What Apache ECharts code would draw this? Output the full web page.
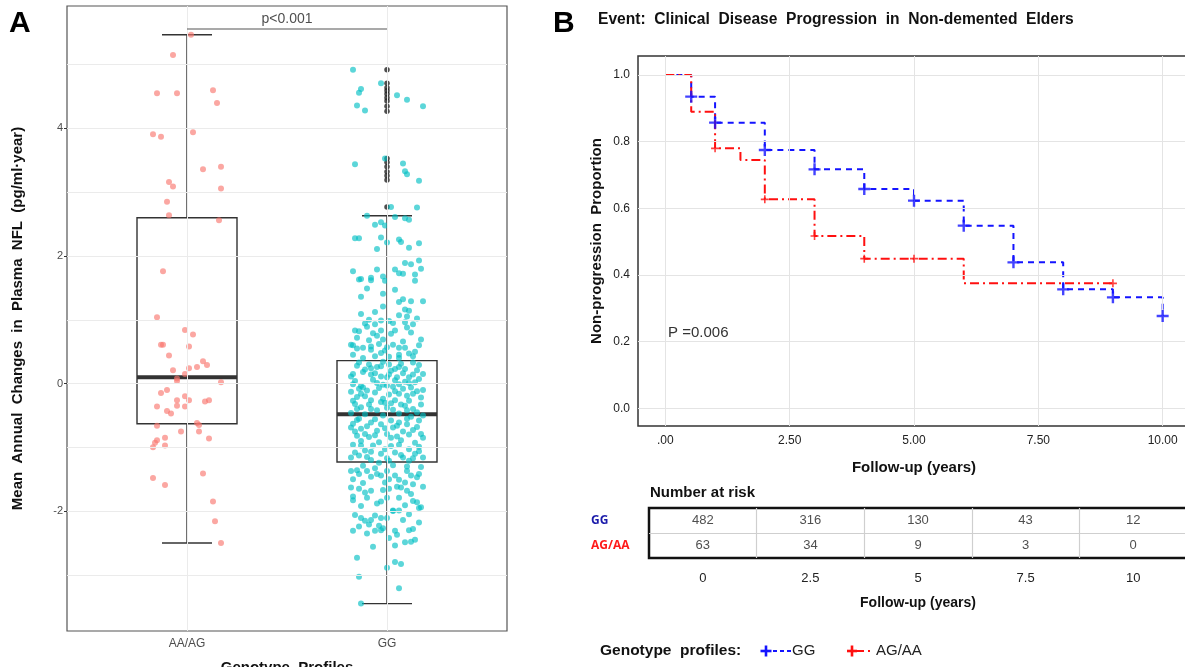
<!DOCTYPE html>
<html>
<head>
<meta charset="utf-8">
<script src="https://cdn.jsdelivr.net/npm/echarts@6/dist/echarts.min.js"></script>
<style>
  html, body { margin: 0; padding: 0; background: #fff; }
  #chart { width: 1185px; height: 667px; }
</style>
</head>
<body>
<div id="chart"></div>
<script>
// ---------- Panel A: NfL change by genotype ----------
const genotypes = ['AA/AG', 'GG'];
// [lower whisker, Q1, median, Q3, upper whisker]
const boxStats = [
  [-2.50, -0.63, 0.10, 2.60, 5.47],
  [-3.45, -1.23, -0.48, 0.36, 2.63]
];
const ggOutliers = [4.92, 4.71, 4.64, 4.59, 4.54, 4.48, 4.43, 4.35, 4.27, 3.53, 3.47, 3.40, 3.32, 3.26, 3.19, 2.77];
// jittered observations: [offset from category, value]
const redJitter = [
  [0.02,5.47],[-0.07,5.15],[-0.15,4.55],[-0.05,4.55],[0.13,4.60],[0.15,4.40],[-0.17,3.91],[-0.13,3.87],[0.03,3.94],
  [0.08,3.36],[0.17,3.40],[-0.09,3.16],[-0.07,3.09],[0.17,3.06],[-0.10,2.85],[-0.09,2.64],[0.16,2.56],[-0.12,1.76],[-0.15,1.04],
  [-0.01,0.84],[0.03,0.77],[-0.13,0.61],[-0.12,0.61],[0.01,0.58],[-0.09,0.44],[0.08,0.35],[0.10,0.29],[0.05,0.26],[0.01,0.24],
  [-0.07,0.21],[-0.01,0.15],[-0.05,0.08],[-0.05,0.04],[0.17,0.02],[-0.13,-0.15],[-0.10,-0.10],[-0.01,-0.20],[-0.05,-0.26],
  [0.01,-0.26],[0.11,-0.26],[0.09,-0.28],[-0.15,-0.36],[-0.05,-0.35],[-0.01,-0.36],[-0.10,-0.43],[-0.08,-0.47],[0.05,-0.62],
  [0.06,-0.65],[-0.15,-0.66],[-0.03,-0.75],[0.06,-0.75],[-0.11,-0.85],[-0.15,-0.89],[-0.16,-0.93],[0.11,-0.86],[-0.11,-0.97],
  [-0.17,-1.00],[0.08,-1.41],[-0.17,-1.48],[-0.11,-1.59],[0.13,-1.85],[0.14,-2.16],[0.17,-2.50]
];
const tealJitter = [
  [-0.17,4.92],[-0.03,4.71],[-0.13,4.62],[-0.14,4.56],[0.05,4.52],[0.10,4.45],[-0.15,4.36],[-0.11,4.28],[0.18,4.35],
  [-0.16,3.44],[-0.01,3.53],[0.08,3.45],[0.09,3.33],[0.10,3.28],[0.16,3.18],
  [0.02,2.77],[0.15,2.76],[-0.10,2.63],[0.04,2.61],[0.09,2.59],[0.11,2.57],[-0.03,2.53],[-0.06,2.49],[-0.01,2.48],
  [-0.16,2.28],[-0.14,2.28],[-0.03,2.29],[0.06,2.26],
  [-0.05,2.11],[0.00,2.21],[0.07,2.22],[0.11,2.13],[0.16,2.20],
  [-0.17,1.76],[-0.14,1.63],[-0.13,1.64],[-0.08,1.66],[-0.08,1.62],[-0.05,1.79],[-0.02,1.68],[-0.01,1.61],[0.04,1.79],
  [0.06,1.73],[0.08,1.72],[0.09,1.89],[0.12,1.87],[0.16,1.93],[0.17,1.80],[0.14,1.71],[0.14,1.61],
  [-0.10,1.49],[-0.13,1.36],[-0.02,1.41],[0.04,1.47],[0.06,1.28],[0.08,1.32],[0.12,1.29],[0.18,1.29],[-0.02,1.21],
  [0.09,1.16],[0.11,1.14],[0.06,1.07],[-0.13,1.09],[0.10,1.05],[-0.06,1.12],[-0.09,1.00],[0.15,1.02],
  [-0.16,0.83],[-0.14,0.82],[-0.11,0.94],[-0.10,0.89],[-0.06,0.93],[-0.03,0.99],[-0.03,0.83],[-0.05,0.75],[0.01,0.98],
  [0.03,0.95],[0.04,0.83],[0.09,0.96],[0.10,0.88],[0.13,0.93],[-0.07,0.79],[0.02,0.78],[0.12,0.80],[-0.15,0.72],
  [-0.18,0.61],[-0.17,0.60],[-0.15,0.55],[-0.12,0.56],[-0.09,0.68],[-0.08,0.58],[-0.08,0.53],[-0.02,0.69],[0.00,0.57],
  [-0.01,0.52],[0.03,0.61],[0.06,0.56],[0.09,0.56],[0.11,0.47],[0.14,0.50],[0.17,0.69],[0.16,0.60],[-0.04,0.62],[0.08,0.66],
  [-0.17,0.45],[-0.06,0.43],[-0.03,0.48],[0.01,0.42],[0.06,0.45],[0.06,0.40],[-0.12,0.40],[0.13,0.43],
  [-0.15,0.28],[-0.09,0.30],[-0.08,0.24],[-0.05,0.26],[-0.03,0.27],[0.01,0.30],[0.04,0.23],[0.06,0.26],[0.09,0.23],[0.16,0.29],
  [-0.14,0.33],[-0.02,0.34],[0.07,0.31],[0.13,0.33],[-0.11,0.22],[0.02,0.20],[0.15,0.21],
  [-0.18,0.11],[-0.17,0.15],[-0.12,0.18],[-0.08,0.14],[-0.06,0.16],[-0.03,0.11],[0.00,0.10],[0.01,0.14],[0.05,0.10],
  [0.08,0.16],[0.11,0.10],[0.13,0.14],[0.18,0.15],
  [-0.16,0.04],[-0.07,0.06],[0.04,0.05],[0.09,0.03],[0.16,0.07],
  [-0.17,-0.01],[-0.14,-0.08],[-0.12,-0.06],[-0.10,-0.11],[-0.05,0.01],[-0.02,-0.02],[0.00,-0.03],[0.03,-0.05],[0.06,-0.01],
  [0.08,-0.08],[0.11,0.01],[0.14,0.02],[0.18,-0.10],[-0.13,-0.04],[-0.04,-0.07],[0.12,-0.06],
  [-0.18,-0.13],[-0.06,-0.14],[0.04,-0.12],[0.10,-0.19],[0.17,-0.22],[-0.15,-0.21],
  [-0.17,-0.27],[-0.16,-0.32],[-0.13,-0.16],[-0.11,-0.20],[-0.08,-0.26],[-0.03,-0.29],[-0.02,-0.24],[0.01,-0.17],[0.02,-0.31],
  [0.06,-0.16],[0.07,-0.33],[0.11,-0.27],[0.13,-0.16],[0.15,-0.12],
  [-0.09,-0.33],[-0.01,-0.30],[0.04,-0.26],[0.09,-0.35],[0.17,-0.33],
  [-0.15,-0.40],[-0.13,-0.37],[-0.08,-0.40],[-0.05,-0.42],[0.00,-0.38],[0.03,-0.41],[0.10,-0.42],[0.13,-0.40],[0.15,-0.45],
  [-0.18,-0.46],[-0.11,-0.48],[-0.02,-0.50],[0.06,-0.47],[0.12,-0.52],[0.18,-0.50],
  [-0.14,-0.55],[-0.06,-0.56],[0.02,-0.58],[0.10,-0.55],
  [-0.17,-0.63],[-0.15,-0.57],[-0.13,-0.71],[-0.11,-0.79],[-0.08,-0.61],[-0.05,-0.74],[-0.03,-0.64],[0.00,-0.79],[0.03,-0.69],
  [0.06,-0.61],[0.08,-0.75],[0.10,-0.64],[0.13,-0.73],[0.16,-0.58],[0.17,-0.79],[-0.15,-0.82],[-0.09,-0.84],[0.05,-0.83],
  [-0.18,-0.69],[-0.10,-0.67],[-0.01,-0.70],[0.05,-0.66],[0.15,-0.68],[-0.16,-0.75],[-0.06,-0.81],[0.02,-0.85],[0.11,-0.80],
  [0.18,-0.85],[-0.13,-0.90],[-0.04,-0.92],[0.07,-0.89],[0.14,-0.93],[-0.17,-0.96],[0.02,-0.98],
  [-0.18,-1.16],[-0.16,-1.08],[-0.13,-0.97],[-0.11,-1.05],[-0.10,-1.15],[-0.08,-1.20],[-0.07,-0.97],[-0.03,-1.10],[-0.01,-1.03],
  [0.00,-1.17],[0.01,-1.21],[0.04,-1.08],[0.06,-0.96],[0.08,-1.16],[0.11,-1.03],[0.11,-1.21],[0.14,-1.10],[0.16,-0.99],
  [0.18,-1.16],[0.16,-1.06],[-0.08,-1.07],[0.07,-1.12],[0.13,-1.17],[-0.14,-1.13],
  [-0.04,-1.24],[0.03,-1.28],[0.10,-1.30],[-0.12,-1.29],[-0.06,-1.33],[0.17,-1.31],
  [-0.18,-1.37],[-0.17,-1.50],[-0.15,-1.36],[-0.14,-1.42],[-0.10,-1.37],[-0.08,-1.46],[-0.05,-1.42],[-0.03,-1.44],[0.00,-1.37],
  [0.01,-1.50],[0.04,-1.44],[0.06,-1.51],[0.10,-1.37],[0.12,-1.44],[0.15,-1.47],[0.16,-1.42],[0.18,-1.62],[0.13,-1.58],
  [-0.01,-1.55],[0.09,-1.55],[-0.12,-1.56],
  [-0.18,-1.63],[-0.17,-1.77],[-0.17,-1.83],[-0.14,-1.65],[-0.11,-1.71],[-0.10,-1.79],[-0.08,-1.68],[-0.03,-1.85],[-0.02,-1.67],
  [0.00,-1.79],[0.01,-1.65],[0.05,-1.62],[0.06,-1.79],[0.07,-1.63],[0.10,-1.68],[0.12,-1.73],[0.13,-1.84],[0.15,-1.86],
  [0.16,-1.95],[0.17,-1.94],[-0.05,-1.88],[0.09,-1.91],[-0.13,-1.92],[0.03,-2.00],
  [-0.16,-2.06],[-0.13,-2.11],[-0.11,-2.15],[-0.09,-2.21],[-0.08,-2.14],[-0.06,-2.07],[-0.04,-2.23],[-0.02,-2.27],[-0.03,-2.11],
  [0.00,-2.11],[0.03,-1.99],[0.06,-1.99],[0.08,-2.14],[0.11,-2.05],[-0.14,-2.24],[-0.17,-2.31],[-0.06,-2.31],[-0.03,-2.30],
  [0.04,-2.31],[0.05,-2.37],[0.11,-2.30],[0.13,-2.28],[-0.10,-2.35],[0.01,-2.42],[0.16,-2.18],
  [-0.07,-2.56],[0.04,-2.54],[0.09,-2.49],[0.12,-2.48],[0.14,-2.45],[-0.15,-2.73],[0.00,-2.89],[0.04,-2.80],[0.07,-2.83],
  [-0.14,-3.03],[0.06,-3.21],[-0.13,-3.45]
];
const pLabel = 'p<0.001';
const bracketLevel = 5.56;
const yTicksA = [-2, 0, 2, 4];
const gridLinesA = [-3, -2, -1, 0, 1, 2, 3, 4, 5];

// ---------- Panel B: Kaplan-Meier ----------
const kmGG = [[0,1],[0.52,0.935],[1,0.857],[2,0.775],[3,0.717],[4,0.658],[5,0.623],[6,0.548],[7,0.438],[8,0.357],[9,0.333],[10,0.277]];
const kmAG = [[0,1],[0.52,0.890],[1,0.780],[1.51,0.745],[2,0.627],[3,0.517],[4,0.449],[6,0.375],[9,0.375]];
const censorGG = [[0.52,0.935],[1,0.857],[2,0.775],[3,0.717],[4,0.658],[5,0.623],[6,0.548],[7,0.438],[8,0.357],[9,0.333],[10,0.277]];
const censorAG = [[1,0.780],[2,0.627],[3,0.517],[4,0.449],[5,0.449],[9,0.375]];
const kmXTicks = [0, 2.5, 5, 7.5, 10];
const kmXLabels = ['.00', '2.50', '5.00', '7.50', '10.00'];
const kmYTicks = [0, 0.2, 0.4, 0.6, 0.8, 1.0];

// number at risk table
const riskTimes = ['0', '2.5', '5', '7.5', '10'];
const riskGroups = ['GG', 'AG/AA'];
const riskGG = [482, 316, 130, 43, 12];
const riskAG = [63, 34, 9, 3, 0];

const FONT = '"Liberation Sans", Arial, sans-serif';
const BLUE = '#1414ff';
const RED = '#ff1010';
const plusPath = 'path://M4,0h2v4h4v2h-4v4h-2v-4h-4v-2h4z';

// a plus sign drawn with two rects, for the legend
function plus(cx, cy, w, h, t, color) {
  return [
    { type: 'rect', shape: { x: cx - w / 2, y: cy - t / 2, width: w, height: t }, style: { fill: color } },
    { type: 'rect', shape: { x: cx - t / 2, y: cy - h / 2, width: t, height: h }, style: { fill: color } }
  ];
}

var chart = echarts.init(document.getElementById('chart'));

var option = {
  backgroundColor: '#fff',
  animation: false,
  textStyle: { fontFamily: FONT },
  grid: [
    { left: 67, top: 6, width: 440, height: 625, outerBoundsMode: 'none', show: true, borderColor: '#555', borderWidth: 1.2, backgroundColor: '#fff' },
    { left: 638, top: 56, width: 552, height: 370, outerBoundsMode: 'none', show: true, borderColor: '#333', borderWidth: 1.5, backgroundColor: '#fff' },
    { left: 649, top: 508, width: 538, height: 50, outerBoundsMode: 'none', show: true, borderColor: '#111', borderWidth: 2.5 }
  ],
  xAxis: [
    {
      gridIndex: 0, type: 'value', min: 0.4, max: 2.6,
      axisLine: { show: false },
      axisTick: { show: true, customValues: [1, 2], length: 3, lineStyle: { color: '#333' } },
      axisLabel: { customValues: [1, 2], formatter: v => genotypes[Math.round(v) - 1], color: '#4d4d4d', fontSize: 12, margin: 7 },
      splitLine: { show: false },
      name: 'Genotype  Profiles', nameLocation: 'middle', nameGap: 29,
      nameTextStyle: { fontWeight: 'bold', fontSize: 15, color: '#111' }
    },
    {
      gridIndex: 1, type: 'value', min: -0.55, max: 10.55,
      axisLine: { show: false },
      axisTick: { show: true, customValues: kmXTicks, length: 5, lineStyle: { color: '#333' } },
      axisLabel: { customValues: kmXTicks, formatter: v => kmXLabels[kmXTicks.indexOf(v)], color: '#222', fontSize: 12, margin: 9 },
      splitLine: { show: false },
      name: 'Follow-up (years)', nameLocation: 'middle', nameGap: 34,
      nameTextStyle: { fontWeight: 'bold', fontSize: 15, color: '#111' }
    },
    {
      gridIndex: 2, type: 'category', data: riskTimes, boundaryGap: true,
      axisLine: { show: false }, axisTick: { show: false },
      axisLabel: { color: '#222', fontSize: 13, margin: 14 },
      splitLine: { show: true, showMinLine: false, showMaxLine: false, lineStyle: { color: '#cfcfcf', width: 1.2 } },
      name: 'Follow-up (years)', nameLocation: 'middle', nameGap: 38,
      nameTextStyle: { fontWeight: 'bold', fontSize: 14, color: '#111' }
    }
  ],
  yAxis: [
    {
      gridIndex: 0, type: 'value', min: -3.88, max: 5.92,
      axisLine: { show: false },
      axisTick: { show: true, customValues: yTicksA, length: 3, lineStyle: { color: '#333' } },
      axisLabel: { customValues: yTicksA, color: '#4d4d4d', fontSize: 11, margin: 4 },
      splitLine: { show: false },
      name: 'Mean  Annual  Changes  in  Plasma  NFL  (pg/ml\u00b7year)', nameLocation: 'middle', nameGap: 42, nameRotate: 90,
      nameTextStyle: { fontWeight: 'bold', fontSize: 15, color: '#111' }
    },
    {
      gridIndex: 1, type: 'value', min: -0.053, max: 1.057,
      axisLine: { show: false },
      axisTick: { show: true, customValues: kmYTicks, length: 5, lineStyle: { color: '#333' } },
      axisLabel: { customValues: kmYTicks, formatter: v => v.toFixed(1), color: '#222', fontSize: 12, margin: 8 },
      splitLine: { show: false },
      name: 'Non-progression  Proportion', nameLocation: 'middle', nameGap: 34, nameRotate: 90,
      nameTextStyle: { fontWeight: 'bold', fontSize: 15, color: '#111' }
    },
    {
      gridIndex: 2, type: 'category', data: riskGroups, inverse: true, boundaryGap: true,
      axisLine: { show: false }, axisTick: { show: false },
      axisLabel: {
        align: 'left', margin: 58,
        formatter: v => (v === 'GG' ? '{gg|' : '{ag|') + v + '}',
        rich: {
          gg: { color: '#1a1aaa', fontWeight: 'bold', fontSize: 12, fontFamily: '"Open Sans", sans-serif' },
          ag: { color: '#ff1a1a', fontWeight: 'bold', fontSize: 12, fontFamily: '"Open Sans", sans-serif' }
        }
      },
      splitLine: { show: true, showMinLine: false, showMaxLine: false, lineStyle: { color: '#cfcfcf', width: 1.2 } }
    }
  ],
  series: [
    // panel A gridlines
    {
      type: 'line', xAxisIndex: 0, yAxisIndex: 0, data: [], z: 1,
      markLine: {
        silent: true, symbol: 'none', label: { show: false },
        lineStyle: { color: '#ebebeb', type: 'solid', width: 1 },
        data: gridLinesA.map(v => ({ yAxis: v })).concat([{ xAxis: 1 }, { xAxis: 2 }])
      }
    },
    // boxes
    {
      type: 'custom', xAxisIndex: 0, yAxisIndex: 0, z: 2,
      data: boxStats.map((s, i) => [i + 1].concat(s)),
      renderItem: function (params, api) {
        var x = api.value(0);
        var lo = api.value(1), q1 = api.value(2), med = api.value(3), q3 = api.value(4), hi = api.value(5);
        var c = (a, b) => api.coord([a, b]);
        var seg = (p1, p2, w) => ({ type: 'line', shape: { x1: p1[0], y1: p1[1], x2: p2[0], y2: p2[1] }, style: { stroke: '#333', lineWidth: w || 1.4 } });
        var tl = c(x - 0.25, q3), br = c(x + 0.25, q1);
        return {
          type: 'group',
          children: [
            seg(c(x, q3), c(x, hi)),
            seg(c(x, q1), c(x, lo)),
            seg(c(x - 0.125, hi), c(x + 0.125, hi)),
            seg(c(x - 0.125, lo), c(x + 0.125, lo)),
            { type: 'rect', shape: { x: tl[0], y: tl[1], width: br[0] - tl[0], height: br[1] - tl[1] }, style: { stroke: '#333', lineWidth: 1.4, fill: '#fff' } },
            seg(c(x - 0.25, med), c(x + 0.25, med), 4)
          ]
        };
      }
    },
    {
      type: 'scatter', xAxisIndex: 0, yAxisIndex: 0, z: 3, symbolSize: 5.5,
      itemStyle: { color: '#222' },
      data: ggOutliers.map(v => [2, v])
    },
    {
      type: 'scatter', xAxisIndex: 0, yAxisIndex: 0, z: 4, symbolSize: 6,
      itemStyle: { color: 'rgba(248,118,109,0.8)' },
      data: redJitter.map(p => [1 + p[0], p[1]])
    },
    {
      type: 'scatter', xAxisIndex: 0, yAxisIndex: 0, z: 4, symbolSize: 6,
      itemStyle: { color: 'rgba(0,191,196,0.8)' },
      data: tealJitter.map(p => [2 + p[0], p[1]])
    },
    // significance bracket
    {
      type: 'line', xAxisIndex: 0, yAxisIndex: 0, z: 5, showSymbol: false,
      lineStyle: { color: '#555', width: 1.1 },
      data: [[1, bracketLevel], [2, bracketLevel]]
    },
    {
      type: 'scatter', xAxisIndex: 0, yAxisIndex: 0, z: 5, symbolSize: 1,
      itemStyle: { color: 'rgba(0,0,0,0)' },
      label: { show: true, position: 'top', distance: 2, formatter: pLabel, color: '#222', fontSize: 14 },
      data: [[1.5, bracketLevel]]
    },
    // panel B gridlines
    {
      type: 'line', xAxisIndex: 1, yAxisIndex: 1, data: [], z: 1,
      markLine: {
        silent: true, symbol: 'none', label: { show: false },
        lineStyle: { color: '#e4e4e4', type: 'solid', width: 1 },
        data: kmYTicks.map(v => ({ yAxis: v })).concat(kmXTicks.map(v => ({ xAxis: v })))
      }
    },
    {
      name: 'GG', type: 'line', xAxisIndex: 1, yAxisIndex: 1, step: 'end', z: 3,
      showSymbol: false, data: kmGG,
      lineStyle: { color: BLUE, width: 2, type: [6, 5] }
    },
    {
      name: 'AG/AA', type: 'line', xAxisIndex: 1, yAxisIndex: 1, step: 'end', z: 4,
      showSymbol: false, data: kmAG,
      lineStyle: { color: RED, width: 2, type: [9, 4, 2, 4] }
    },
    {
      type: 'scatter', xAxisIndex: 1, yAxisIndex: 1, z: 5, symbol: plusPath, symbolSize: 12,
      itemStyle: { color: BLUE }, data: censorGG
    },
    {
      type: 'scatter', xAxisIndex: 1, yAxisIndex: 1, z: 5, symbol: plusPath, symbolSize: 8,
      itemStyle: { color: RED }, data: censorAG
    },
    // number at risk table
    {
      type: 'scatter', xAxisIndex: 2, yAxisIndex: 2, symbolSize: 1,
      itemStyle: { color: 'rgba(0,0,0,0)' },
      label: { show: true, position: 'inside', formatter: p => String(p.value[2]), color: '#222', fontSize: 13 },
      data: riskGG.map((v, i) => [i, 0, v]).concat(riskAG.map((v, i) => [i, 1, v]))
    }
  ],
  graphic: [
    { type: 'text', x: 9, y: 24, style: { text: 'A', font: 'bold 30px ' + FONT, fill: '#000', verticalAlign: 'middle' } },
    { type: 'text', x: 553, y: 24, style: { text: 'B', font: 'bold 30px ' + FONT, fill: '#000', verticalAlign: 'middle' } },
    { type: 'text', x: 598, y: 20, style: { text: 'Event:  Clinical  Disease  Progression  in  Non-demented  Elders', font: 'bold 15.6px ' + FONT, fill: '#111', verticalAlign: 'middle' } },
    { type: 'text', x: 668, y: 333, style: { text: 'P =0.006', font: '15px ' + FONT, fill: '#333', verticalAlign: 'middle' } },
    { type: 'text', x: 650, y: 493, style: { text: 'Number at risk', font: 'bold 15px ' + FONT, fill: '#111', verticalAlign: 'middle' } },
    // legend
    { type: 'text', x: 600, y: 651, style: { text: 'Genotype  profiles:', font: 'bold 15.5px ' + FONT, fill: '#111', verticalAlign: 'middle' } }
  ].concat(plus(766, 651, 11, 11, 2.6, BLUE), [
    { type: 'line', shape: { x1: 773, y1: 651, x2: 791, y2: 651 }, style: { stroke: BLUE, lineWidth: 2.2, lineDash: [4, 3] } },
    { type: 'text', x: 792, y: 651, style: { text: 'GG', font: '15px ' + FONT, fill: '#222', verticalAlign: 'middle' } }
  ], plus(852, 651, 10, 11, 2.6, RED), [
    { type: 'line', shape: { x1: 855, y1: 651, x2: 864, y2: 651 }, style: { stroke: RED, lineWidth: 2 } },
    { type: 'line', shape: { x1: 868, y1: 651, x2: 870, y2: 651 }, style: { stroke: RED, lineWidth: 2 } },
    { type: 'text', x: 876, y: 651, style: { text: 'AG/AA', font: '15px ' + FONT, fill: '#222', verticalAlign: 'middle' } }
  ])
};

option && chart.setOption(option);
</script>
</body>
</html>
